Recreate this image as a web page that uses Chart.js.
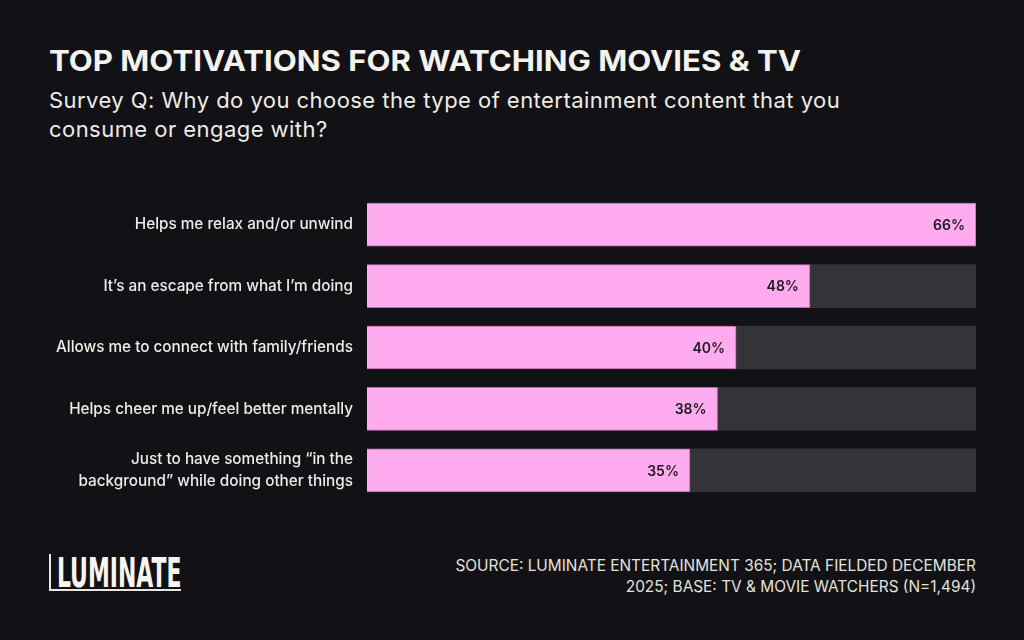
<!DOCTYPE html>
<html><head><meta charset="utf-8">
<script src="https://cdn.jsdelivr.net/npm/chart.js@4/dist/chart.umd.min.js"></script>
<style>
html,body{margin:0;padding:0;background:#111116;width:1024px;height:640px;overflow:hidden;font-family:Inter,"Noto Sans",sans-serif;color:#f4f2ec}
#title{position:absolute;left:49px;top:43px;font-size:29px;font-weight:700;white-space:nowrap;transform-origin:0 0;transform:scaleX(1.074)}
#sub{position:absolute;left:49px;top:86px;font-size:22px;font-weight:400;line-height:29px;width:860px;color:#eeece6;letter-spacing:0.45px}
#wrap{position:absolute;left:0;top:194px;width:1024px;height:307px}
#logo{position:absolute;left:49px;top:554px;width:130px;height:35px;border-left:2px solid #e8e6e0;border-bottom:2px solid #e8e6e0}
#logo span{position:absolute;left:6px;top:-4px;font-family:"Liberation Sans Narrow","DejaVu Sans Condensed",sans-serif;font-weight:700;font-size:40px;color:#f7f5ef;transform-origin:0 0;transform:scaleX(0.61);white-space:nowrap}
#src{position:absolute;right:48px;top:555px;text-align:right;font-size:15.4px;line-height:21px;color:#e4e2dc;white-space:nowrap}
</style></head><body>
<div id="title">TOP MOTIVATIONS FOR WATCHING MOVIES &amp; TV</div>
<div id="sub">Survey Q: Why do you choose the type of entertainment content that you<br>consume or engage with?</div>
<div id="wrap"><canvas id="c" width="1024" height="307"></canvas></div>
<div id="logo"><span>LUMINATE</span></div>
<div id="src">SOURCE: LUMINATE ENTERTAINMENT 365; DATA FIELDED DECEMBER<br>2025; BASE: TV &amp; MOVIE WATCHERS (N=1,494)</div>
<script>
const categories = [
  "Helps me relax and/or unwind",
  "It\u2019s an escape from what I\u2019m doing",
  "Allows me to connect with family/friends",
  "Helps cheer me up/feel better mentally",
  ["Just to have something \u201cin the", "background\u201d while doing other things"]
];
const values = [66, 48, 40, 38, 35];
const axisMax = 66;
const trackValues = categories.map(() => axisMax);

const valueLabels = {
  id: 'valueLabels',
  afterDatasetsDraw(chart) {
    const ctx = chart.ctx;
    const meta = chart.getDatasetMeta(1);
    ctx.save();
    ctx.font = '600 14px Inter, "Noto Sans", sans-serif';
    ctx.fillStyle = '#1c1a1e';
    ctx.textAlign = 'right';
    ctx.textBaseline = 'middle';
    meta.data.forEach((bar, i) => {
      ctx.fillText(values[i] + '%', bar.x - 11, bar.y + 1);
    });
    ctx.restore();
  }
};

new Chart(document.getElementById('c'), {
  type: 'bar',
  data: {
    labels: categories,
    datasets: [
      { data: trackValues, backgroundColor: '#333438', borderWidth: 0, barThickness: 43, grouped: false, order: 2 },
      { data: values, backgroundColor: '#ffabf0', borderColor: '#b86aa8', borderWidth: 1, barThickness: 43, grouped: false, order: 1 }
    ]
  },
  options: {
    indexAxis: 'y',
    responsive: false,
    animation: false,
    layout: { padding: { left: 0, right: 48, top: 0, bottom: 0 } },
    plugins: { legend: { display: false }, tooltip: { enabled: false } },
    scales: {
      x: { display: false, min: 0, max: axisMax },
      y: {
        grid: { display: false, drawTicks: false },
        border: { display: false },
        afterFit(s) { s.width = 367; s.paddingTop = 0; s.paddingBottom = 0; },
        ticks: {
          color: '#eeece6',
          padding: 14,
          font: { family: 'Inter, "Noto Sans", sans-serif', size: 15.3, weight: '500', lineHeight: 1.4 }
        }
      }
    }
  },
  plugins: [valueLabels]
});
</script>
</body></html>
